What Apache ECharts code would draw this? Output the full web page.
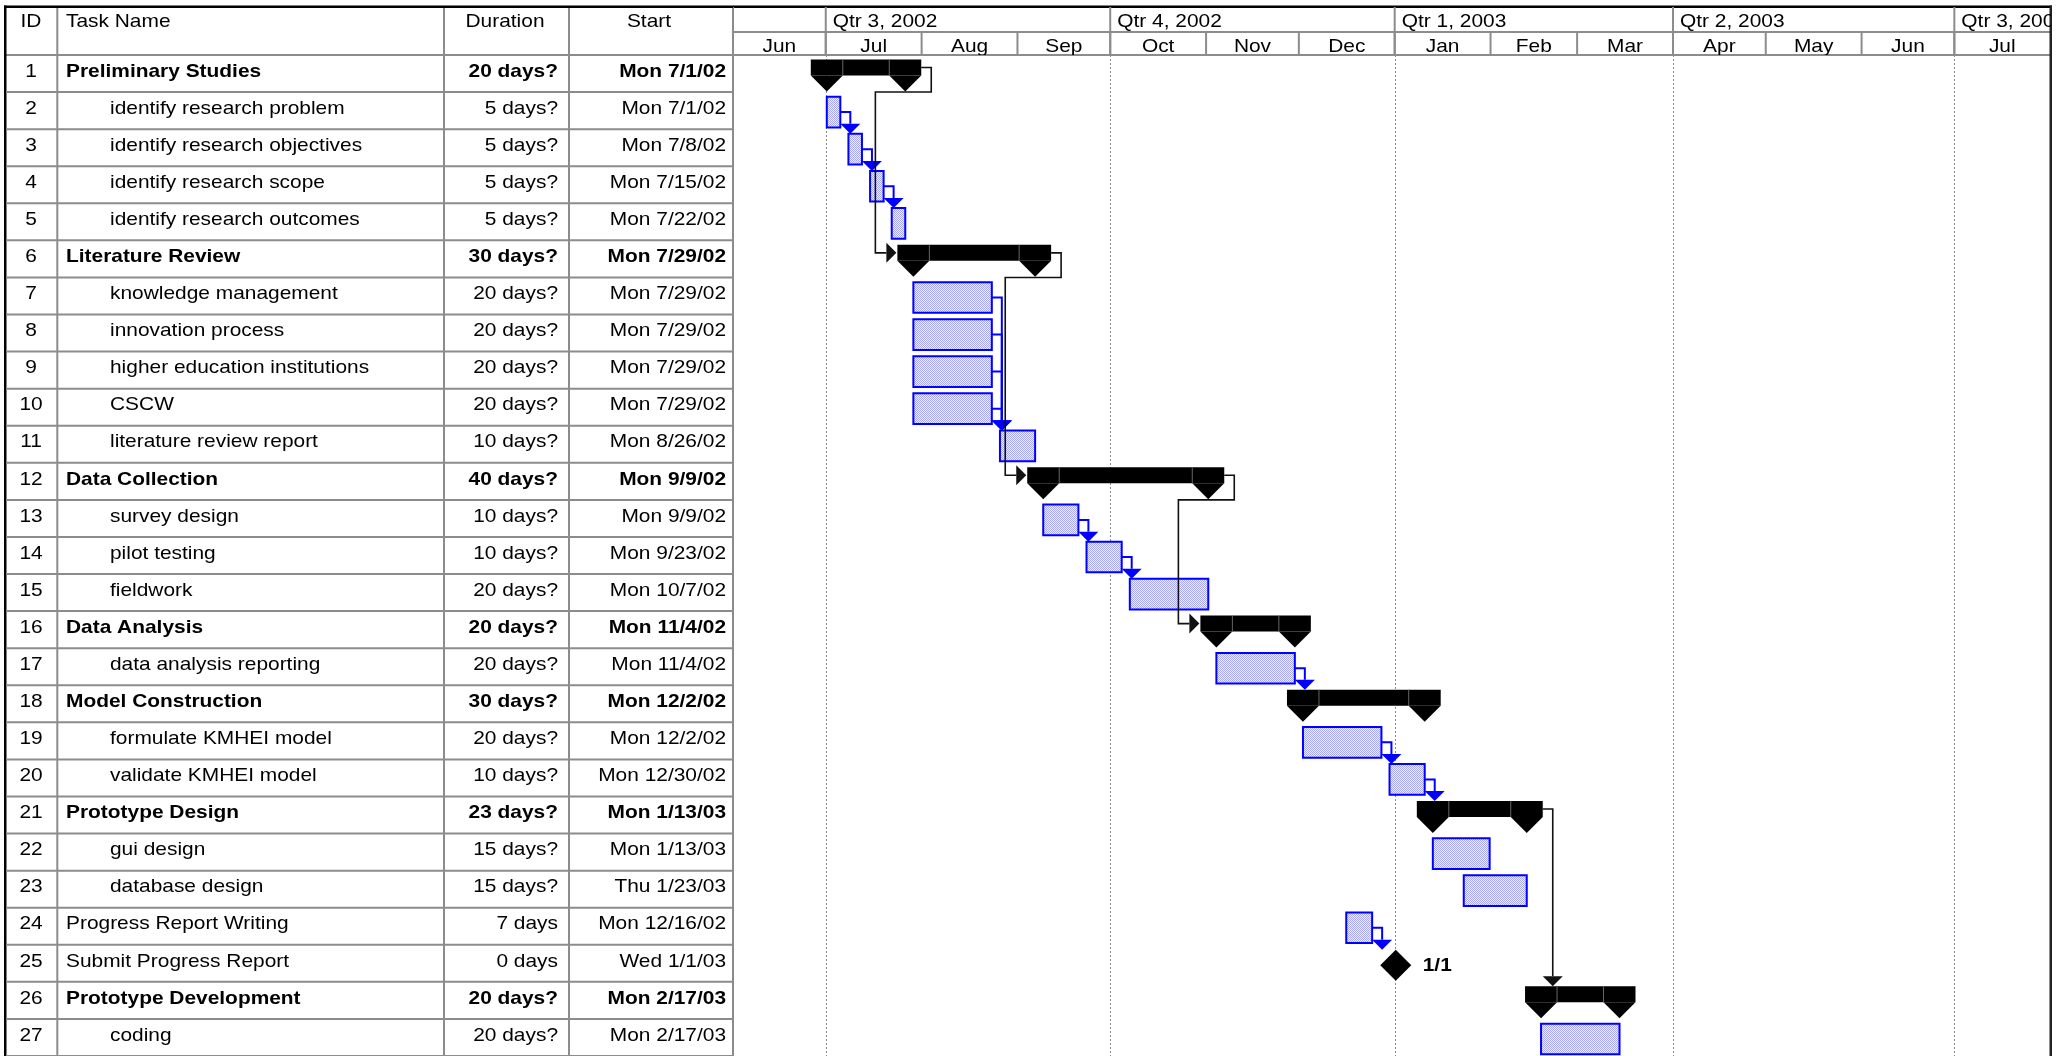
<!DOCTYPE html>
<html>
<head>
<meta charset="utf-8">
<title>Research schedule</title>
<script src="https://cdn.jsdelivr.net/npm/echarts@6/dist/echarts.min.js"></script>
<style>
html, body { margin: 0; padding: 0; background: #fff; }
#main { width: 2065px; height: 1056px; }
</style>
</head>
<body>
<div id="main"></div>
<script>
// ---- schedule ----
var taskNames = [
    'Preliminary Studies', 'identify research problem', 'identify research objectives', 'identify research scope', 'identify research outcomes',
    'Literature Review', 'knowledge management', 'innovation process', 'higher education institutions', 'CSCW', 'literature review report',
    'Data Collection', 'survey design', 'pilot testing', 'fieldwork',
    'Data Analysis', 'data analysis reporting',
    'Model Construction', 'formulate KMHEI model', 'validate KMHEI model',
    'Prototype Design', 'gui design', 'database design',
    'Progress Report Writing', 'Submit Progress Report',
    'Prototype Development', 'coding'
];
var durations = [
    '20 days?', '5 days?', '5 days?', '5 days?', '5 days?',
    '30 days?', '20 days?', '20 days?', '20 days?', '20 days?', '10 days?',
    '40 days?', '10 days?', '10 days?', '20 days?',
    '20 days?', '20 days?',
    '30 days?', '20 days?', '10 days?',
    '23 days?', '15 days?', '15 days?',
    '7 days', '0 days',
    '20 days?', '20 days?'
];
var starts = [
    'Mon 7/1/02', 'Mon 7/1/02', 'Mon 7/8/02', 'Mon 7/15/02', 'Mon 7/22/02',
    'Mon 7/29/02', 'Mon 7/29/02', 'Mon 7/29/02', 'Mon 7/29/02', 'Mon 7/29/02', 'Mon 8/26/02',
    'Mon 9/9/02', 'Mon 9/9/02', 'Mon 9/23/02', 'Mon 10/7/02',
    'Mon 11/4/02', 'Mon 11/4/02',
    'Mon 12/2/02', 'Mon 12/2/02', 'Mon 12/30/02',
    'Mon 1/13/03', 'Mon 1/13/03', 'Thu 1/23/03',
    'Mon 12/16/02', 'Wed 1/1/03',
    'Mon 2/17/03', 'Mon 2/17/03'
];
var summaryFlags = [1,0,0,0,0, 1,0,0,0,0,0, 1,0,0,0, 1,0, 1,0,0, 1,0,0, 0,0, 1,0];
var indentLevels = [0,1,1,1,1, 0,1,1,1,1,1, 0,1,1,1, 0,1, 0,1,1, 0,1,1, 0,0, 0,1];

// predecessor links (task IDs); 'wrap' = routed back round into the successor's left end
var linkFrom  = [2, 3, 4, 1, 7, 8, 9, 10, 6, 13, 14, 12, 17, 19, 20, 24, 21];
var linkTo    = [3, 4, 5, 6, 11, 11, 11, 11, 12, 14, 15, 16, 18, 20, 21, 25, 26];
var linkRoute = ['down','down','down','wrap','down','down','down','down','wrap','down','down','wrap','down','down','down','down','down'];

// timescale
var axisRange = ['2002-06-01', '2003-08-01'];
var monthLabels = ['Jun','Jul','Aug','Sep','Oct','Nov','Dec','Jan','Feb','Mar','Apr','May','Jun','Jul'];
var monthStarts = ['2002-06-01','2002-07-01','2002-08-01','2002-09-01','2002-10-01','2002-11-01','2002-12-01',
                   '2003-01-01','2003-02-01','2003-03-01','2003-04-01','2003-05-01','2003-06-01','2003-07-01'];
var quarterLabels = ['', 'Qtr 3, 2002', 'Qtr 4, 2002', 'Qtr 1, 2003', 'Qtr 2, 2003', 'Qtr 3, 2003'];
var quarterStarts = ['2002-06-01','2002-07-01','2002-10-01','2003-01-01','2003-04-01','2003-07-01'];

var headerCols = ['ID', 'Task Name', 'Duration', 'Start'];

// ---- helpers ----
var FONT = "'Liberation Sans', Arial, sans-serif";
var FS = 19;
var STRETCH = 1.1;   // the screenshot text is a bit wider than plain Arial
var ROW_H = 37.1;
var N = taskNames.length;

function ymd(s) {
    var p = s.split('-');
    return new Date(+p[0], +p[1] - 1, +p[2]);
}
function parseStart(s) {
    var p = s.split(' ')[1].split('/');
    return new Date(2000 + +p[2], +p[0] - 1, +p[1]);
}
function workDays(s) {
    return parseInt(s, 10);
}
function finishDay(day, days) {
    var d = new Date(day.getTime());
    var left = days - 1;
    while (left > 0) {
        d.setDate(d.getDate() + 1);
        if (d.getDay() !== 0 && d.getDay() !== 6) left--;
    }
    return d;
}
function at(day, hour) {
    return new Date(day.getFullYear(), day.getMonth(), day.getDate(), hour).getTime();
}
function txt(x, y, text, align, bold) {
    return {
        type: 'text', x: x, y: y, scaleX: STRETCH,
        style: {
            text: text, fontFamily: FONT, fontSize: FS, fontWeight: bold ? 'bold' : 'normal',
            fill: '#000', align: align, verticalAlign: 'middle', textAlign: align, textVerticalAlign: 'middle'
        }
    };
}

// bar data
var taskData = [];
var startTs = [], finishTs = [], kinds = [];
for (var i = 0; i < N; i++) {
    var sd = parseStart(starts[i]);
    var nd = workDays(durations[i]);
    var kind = summaryFlags[i] ? 1 : (nd === 0 ? 2 : 0);
    var s = at(sd, 8);
    var f = nd === 0 ? s : at(finishDay(sd, nd), 17);
    startTs.push(s); finishTs.push(f); kinds.push(kind);
    taskData.push([s, f, i, kind]);
}

var linkData = [];
for (var k = 0; k < linkFrom.length; k++) {
    var a = linkFrom[k] - 1, b = linkTo[k] - 1;
    linkData.push([finishTs[a], a, startTs[b], b, linkRoute[k] === 'wrap' ? 1 : 0, kinds[a], kinds[b]]);
}

var tableData = [];
for (var r = 0; r < N; r++) tableData.push([0, r]);

var monthData = monthStarts.map(function (m, j) {
    var end = j + 1 < monthStarts.length ? monthStarts[j + 1] : axisRange[1];
    return [ymd(m).getTime(), ymd(end).getTime(), 0];
});
var quarterData = quarterStarts.map(function (q, j) {
    var end = j + 1 < quarterStarts.length ? quarterStarts[j + 1] : axisRange[1];
    return [ymd(q).getTime(), ymd(end).getTime(), 0];
});
var gridLineData = quarterStarts.slice(1).map(function (q) { return [ymd(q).getTime(), 0]; });

// dotted fill used by MS Project task bars
var pat = document.createElement('canvas');
pat.width = 2; pat.height = 2;
var pc = pat.getContext('2d');
pc.fillStyle = '#f2f2ff'; pc.fillRect(0, 0, 2, 2);
pc.fillStyle = '#a6a6f6'; pc.fillRect(0, 0, 1, 1); pc.fillRect(1, 1, 1, 1);
var barFill = { image: pat, repeat: 'repeat' };

// ---- renderers ----
function renderTask(params, api) {
    var band = api.size([0, 1])[1];
    var s = api.coord([api.value(0), api.value(2)]);
    var e = api.coord([api.value(1), api.value(2)]);
    var top = s[1] - band / 2;
    var kind = api.value(3);
    var x0 = s[0], x1 = e[0];
    if (kind === 2) {
        var cy = top + 20.5, r = 15.5;
        var lab = starts[params.dataIndex].split(' ')[1].split('/');
        return { type: 'group', children: [
            { type: 'polygon', shape: { points: [[x0, cy - r], [x0 + r, cy], [x0, cy + r], [x0 - r, cy]] }, style: { fill: '#000' } },
            txt(x0 + 27, cy, lab[0] + '/' + lab[1], 'left', true)
        ] };
    }
    if (kind === 1) {
        var t = top + 4.5;
        return { type: 'group', children: [
            { type: 'rect', shape: { x: x0 - 16, y: t, width: x1 - x0 + 32, height: 16 }, style: { fill: '#000' } },
            { type: 'polygon', shape: { points: [[x0 - 16, t + 16], [x0 + 16, t + 16], [x0, t + 32]] }, style: { fill: '#000' } },
            { type: 'polygon', shape: { points: [[x1 - 16, t + 16], [x1 + 16, t + 16], [x1, t + 32]] }, style: { fill: '#000' } },
            { type: 'line', shape: { x1: x0 + 16, y1: t, x2: x0 + 16, y2: t + 16 }, style: { stroke: '#666', lineWidth: 1 } },
            { type: 'line', shape: { x1: x1 - 16, y1: t, x2: x1 - 16, y2: t + 16 }, style: { stroke: '#666', lineWidth: 1 } }
        ] };
    }
    return {
        type: 'rect',
        shape: { x: x0, y: top + 4.7, width: x1 - x0, height: 30.7 },
        style: { fill: barFill, stroke: '#0000ff', lineWidth: 2 }
    };
}

function renderLink(params, api) {
    var band = api.size([0, 1])[1];
    var pe = api.coord([api.value(0), api.value(1)]);
    var ss = api.coord([api.value(2), api.value(3)]);
    var predKind = api.value(5), succKind = api.value(6);
    var predTop = pe[1] - band / 2, succTop = ss[1] - band / 2;
    var color = predKind === 1 ? '#111' : '#0000ff';
    var sx, sy;
    if (predKind === 1) { sx = pe[0] + 16; sy = predTop + 4.5 + 8; }
    else { sx = pe[0]; sy = predTop + 4.7 + 15.3; }
    var vx = sx + 10;
    var pts, arrow;
    if (api.value(4) === 0) {
        var tipY = succKind === 2 ? succTop + 20.5 - 15.5 : (succKind === 1 ? succTop + 4.5 : succTop + 4.7);
        pts = [[sx, sy], [vx, sy], [vx, tipY - 10]];
        arrow = [[vx - 10, tipY - 10], [vx + 10, tipY - 10], [vx, tipY]];
    } else {
        var left = ss[0] - 17;
        var my = succTop + 4.5 + 8;
        var wx = left - 21;
        var rb = predTop + band;
        pts = [[sx, sy], [vx, sy], [vx, rb], [wx, rb], [wx, my], [left - 10, my]];
        arrow = [[left - 10, my - 10], [left - 10, my + 10], [left, my]];
    }
    return { type: 'group', children: [
        { type: 'polyline', shape: { points: pts }, style: { stroke: color, lineWidth: predKind === 1 ? 1.6 : 2, fill: null } },
        { type: 'polygon', shape: { points: arrow }, style: { fill: color } }
    ] };
}

function renderRow(params, api) {
    var i = params.dataIndex;
    var cs = params.coordSys;
    var c = api.coord([0, api.value(1)]);
    var band = api.size([0, 1])[1];
    var top = c[1] - band / 2;
    var ty = top + 16.5;
    var bold = !!summaryFlags[i];
    return { type: 'group', children: [
        { type: 'line', shape: { x1: cs.x, y1: top + band, x2: cs.x + cs.width, y2: top + band }, style: { stroke: '#8c8c8c', lineWidth: 2 } },
        txt(cs.x + 25, ty, String(i + 1), 'center', false),
        txt(cs.x + (indentLevels[i] ? 104 : 60), ty, taskNames[i], 'left', bold),
        txt(cs.x + 552, ty, durations[i], 'right', bold),
        txt(cs.x + 720, ty, starts[i], 'right', bold)
    ] };
}

function renderMonth(params, api) {
    var cs = params.coordSys;
    var x0 = api.coord([api.value(0), 0])[0];
    var x1 = api.coord([api.value(1), 0])[0];
    return { type: 'group', children: [
        { type: 'line', shape: { x1: x0, y1: cs.y + 25, x2: x0, y2: cs.y + cs.height }, style: { stroke: '#8c8c8c', lineWidth: 2 } },
        txt((x0 + x1) / 2, cs.y + 39.5, monthLabels[params.dataIndex], 'center', false)
    ] };
}

function renderQuarter(params, api) {
    var cs = params.coordSys;
    var x0 = api.coord([api.value(0), 0])[0];
    return { type: 'group', children: [
        { type: 'line', shape: { x1: x0, y1: cs.y, x2: x0, y2: cs.y + cs.height }, style: { stroke: '#8c8c8c', lineWidth: 2 } },
        txt(x0 + 7, cs.y + 14.5, quarterLabels[params.dataIndex], 'left', false)
    ] };
}

function renderGridLine(params, api) {
    var cs = params.coordSys;
    var x = Math.round(api.coord([api.value(0), 0])[0]) + 0.5;
    return { type: 'line', shape: { x1: x, y1: cs.y, x2: x, y2: cs.y + cs.height },
             style: { stroke: '#8a8a8a', lineWidth: 1, lineDash: [2, 2] } };
}

// ---- chart ----
var tMin = ymd(axisRange[0]).getTime();
var tMax = ymd(axisRange[1]).getTime();
var ids = taskNames.map(function (n, j) { return String(j + 1); });

var myChart = echarts.init(document.getElementById('main'), null, { renderer: 'canvas' });

var headerXs = [31, 66, 505, 649];
var headerAligns = ['center', 'left', 'center', 'center'];

var graphics = [];
// column separators of the table and the chart's left edge
[57.3, 444, 569, 733].forEach(function (x) {
    graphics.push({ type: 'line', shape: { x1: x, y1: 7, x2: x, y2: 1060 }, style: { stroke: '#8c8c8c', lineWidth: 2 } });
});
graphics.push({ type: 'line', shape: { x1: 6, y1: 55, x2: 2050, y2: 55 }, style: { stroke: '#8c8c8c', lineWidth: 2 } });
graphics.push({ type: 'line', shape: { x1: 733, y1: 32, x2: 2050, y2: 32 }, style: { stroke: '#8c8c8c', lineWidth: 2 } });
// outer frame
graphics.push({ type: 'rect', shape: { x: 4, y: 5.5, width: 2048, height: 2.5 }, style: { fill: '#000' } });
graphics.push({ type: 'rect', shape: { x: 4, y: 5.5, width: 2.5, height: 1060 }, style: { fill: '#000' } });
graphics.push({ type: 'rect', shape: { x: 2049.5, y: 5.5, width: 2.5, height: 1060 }, style: { fill: '#222' } });
headerCols.forEach(function (h, j) {
    graphics.push(txt(headerXs[j], 21.5, h, headerAligns[j], false));
});

var option = {
    animation: false,
    backgroundColor: '#fff',
    graphic: { elements: graphics },
    grid: [
        { left: 733, top: 55, width: 1317.2, height: ROW_H * N },
        { left: 733, top: 7, width: 1317.2, height: 48 },
        { left: 6, top: 55, width: 727, height: ROW_H * N }
    ],
    xAxis: [
        { type: 'time', gridIndex: 0, min: tMin, max: tMax, show: false },
        { type: 'time', gridIndex: 1, min: tMin, max: tMax, show: false },
        { type: 'value', gridIndex: 2, min: 0, max: 727, show: false }
    ],
    yAxis: [
        { type: 'category', gridIndex: 0, data: ids, inverse: true, show: false },
        { type: 'value', gridIndex: 1, min: 0, max: 48, inverse: true, show: false },
        { type: 'category', gridIndex: 2, data: ids, inverse: true, show: false }
    ],
    series: [
        { type: 'custom', name: 'quarter grid', xAxisIndex: 0, yAxisIndex: 0, renderItem: renderGridLine,
          encode: { x: 0 }, data: gridLineData, z: 1, silent: true },
        { type: 'custom', name: 'tasks', xAxisIndex: 0, yAxisIndex: 0, renderItem: renderTask,
          encode: { x: [0, 1], y: 2 }, data: taskData, z: 3 },
        { type: 'custom', name: 'links', xAxisIndex: 0, yAxisIndex: 0, renderItem: renderLink,
          encode: { x: [0, 2], y: [1, 3] }, data: linkData, z: 4 },
        { type: 'custom', name: 'months', xAxisIndex: 1, yAxisIndex: 1, renderItem: renderMonth, clip: true,
          encode: { x: [0, 1], y: 2 }, data: monthData, z: 3 },
        { type: 'custom', name: 'quarters', xAxisIndex: 1, yAxisIndex: 1, renderItem: renderQuarter, clip: true,
          encode: { x: [0, 1], y: 2 }, data: quarterData, z: 3 },
        { type: 'custom', name: 'table', xAxisIndex: 2, yAxisIndex: 2, renderItem: renderRow,
          encode: { x: 0, y: 1 }, data: tableData, z: 3 }
    ]
};
myChart.setOption(option);
</script>
</body>
</html>
